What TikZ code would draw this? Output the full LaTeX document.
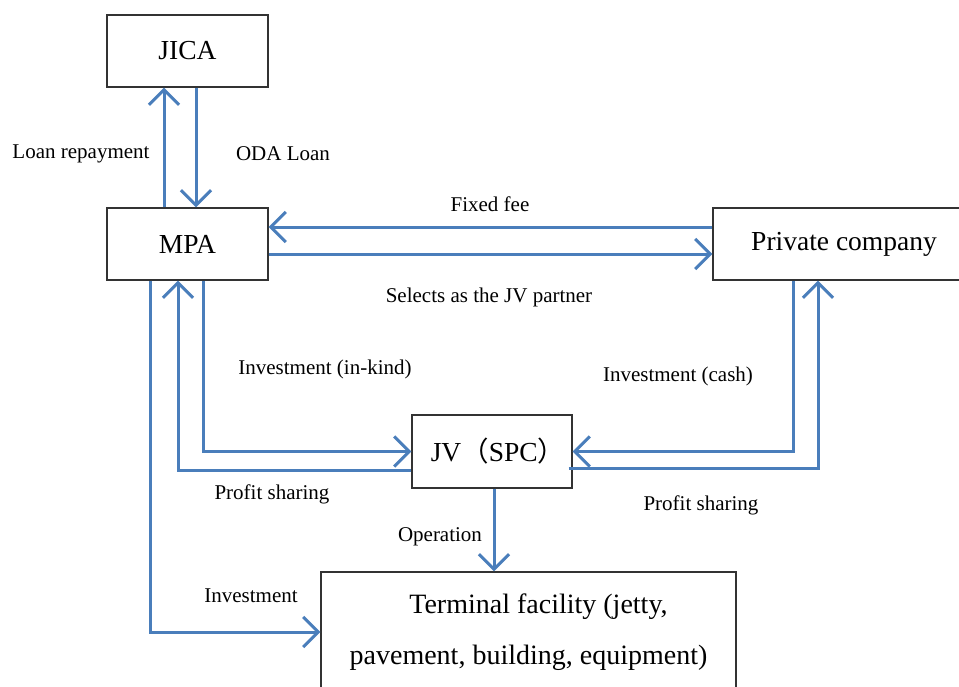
\documentclass[tikz,border=0pt]{standalone}
\usepackage{fontspec}
\setmainfont{Liberation Serif}
\newfontfamily\cjk{Noto Sans CJK SC}
\usetikzlibrary{arrows.meta}
\definecolor{flowblue}{RGB}{74,126,187}
\tikzset{
  party/.style={draw=black!80, line width=1.4pt, fill=white, inner sep=0pt,
    font=\fontsize{27.5}{33}\selectfont},
  flow/.style={draw=flowblue, line width=3pt,
    -{Straight Barb[length=15pt,width=30pt,line width=3pt]}},
  lbl/.style={font=\fontsize{21}{25}\selectfont, inner sep=0pt}
}
\begin{document}
\begin{tikzpicture}[x=1pt,y=-1pt]
        \useasboundingbox (0,0) rectangle (959,686);

        % Draw the parties
        \node[party, minimum width=161pt, minimum height=72pt] (jica) at (187.5,51) {JICA};
        \node[party, minimum width=161pt, minimum height=72pt] (mpa) at (187.5,244) {MPA};
        \node[party, minimum width=262pt, minimum height=72pt] (private) at (844,244) {Private company};
        \node[party, minimum width=160pt, minimum height=73pt] (jv) at (492,451.5) {\hspace*{12pt}JV{\cjk （}SPC{\cjk ）}};
        \node[party, minimum width=415pt, minimum height=120pt, align=center,
              font=\fontsize{28}{51}\selectfont] (term) at (528.5,632)
              {\hspace*{20pt}Terminal facility (jetty,\\ pavement, building, equipment)};

        % Loan flows
        \draw[flow] ([xshift=-23.5pt]mpa.north) -- ([xshift=-23.5pt]jica.south);
        \draw[flow] ([xshift=8.5pt]jica.south) -- ([xshift=8.5pt]mpa.north);

        % MPA and private company
        \draw[flow] ([yshift=17pt]private.west) -- ([yshift=17pt]mpa.east);
        \draw[flow] ([yshift=-10pt]mpa.east) -- ([yshift=-10pt]private.west);

        % Investment into the JV
        \draw[flow] ([xshift=15.5pt]mpa.south) |- (jv.west);
        \draw[flow] ([xshift=-51pt]private.south) |- (jv.east);

        % Profit sharing back
        \draw[flow] ([yshift=-18.5pt]jv.west) -| ([xshift=-9.5pt]mpa.south);
        \draw[flow] ([xshift=-4pt,yshift=-17pt]jv.east) -| ([xshift=-26pt]private.south);

        % Terminal facility
        \draw[flow] ([xshift=2pt]jv.south) -- ([xshift=2pt]jv.south |- term.north);
        \draw[flow] ([xshift=-37.5pt]mpa.south) |- (term.west);

        % Add flow labels
        \foreach \x/\y/\name/\txt in {
            81/154/repay/Loan repayment,
            283/154/oda/ODA Loan,
            490/204/fee/Fixed fee,
            489/297/select/Selects as the JV partner,
            325/369/inkind/Investment (in-kind),
            678/376/cash/Investment (cash),
            272/494/shareL/Profit sharing,
            701/505/shareR/Profit sharing,
            440/537/oper/Operation,
            251/596/invest/Investment
        } {
            \node[lbl] (\name) at (\x,\y) {\txt};
        }
    \end{tikzpicture}
\end{document}
